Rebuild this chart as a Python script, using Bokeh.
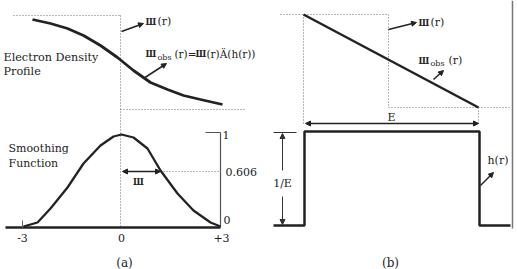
from bokeh.plotting import figure
from bokeh.models import Range1d, Arrow, NormalHead, ColumnDataSource
from bokeh.core.properties import value
from bokeh.embed import file_html
from bokeh.resources import INLINE

W, H = 517, 269

# ---- panel (a): electron density profile ----
dens_x = [32, 50, 67, 83, 100, 117, 133, 150, 167, 183, 200, 222]
dens_y = [19, 23, 28, 35, 45, 57, 70, 82, 89, 95, 99, 104]

# ---- panel (a): smoothing function ----
smooth_x = [23, 37, 50, 67, 83, 100, 113, 121, 133, 147, 160, 177, 193, 210, 220]
smooth_y = [226, 222, 208, 187, 163, 145, 136, 134, 137, 148, 170, 193, 210, 222, 226]
smooth_ticks = ["-3", "0", "+3"]
smooth_tick_x = [22, 121, 221]
level_labels = ["1", "0.606", "0"]
level_x = [222, 225, 223]
level_y = [134, 171, 219]

# ---- panel (b): linear profile and box function ----
lin_x = [303, 478]
lin_y = [14, 107]
box_x = [273, 304, 304, 479, 479, 510]
box_y = [225, 225, 131, 131, 225, 225]

# dotted guide lines: (xs, ys)
guides_x = [[13, 120], [120, 120], [120, 244], [280, 388], [303, 303], [388, 388], [388, 510], [478, 478], [163, 220]]
guides_y = [[15, 15], [15, 227], [109, 109], [14, 14], [14, 124], [14, 107], [107, 107], [107, 124], [171, 171]]

# solid helper lines
solid_x = [[5, 220], [220, 220], [205, 220], [22, 22], [273, 296], [512, 512]]
solid_y = [[227, 227], [132, 227], [132, 132], [220, 227], [132, 132], [0, 228]]
solid_w = [2.5, 1.2, 1.2, 1.0, 1.0, 1.5]
solid_c = ["#222222", "#555555", "#555555", "#666666", "#333333", "#777777"]

# single-headed arrows (x0, y0, x1, y1)
arrows1 = [(121, 31, 143, 23), (143, 78, 166, 63), (388, 29, 416, 22), (433, 79, 443, 70), (480, 185, 493, 172)]
# double-headed arrows
arrows2 = [(122, 171, 160, 171), (305, 123, 478, 123)]
# one-headed vertical parts of 1/E
arrows_v = [(282, 170, 282, 133), (282, 196, 282, 224)]

p = figure(width=W, height=H, x_range=Range1d(0, W), y_range=Range1d(H, 0),
           output_backend="svg", toolbar_location=None, min_border=0)
p.axis.visible = False
p.grid.visible = False
p.outline_line_color = None
p.background_fill_color = "white"

p.multi_line(guides_x, guides_y, line_color="#707070", line_width=1.1, line_dash="1 2")
p.multi_line(source=ColumnDataSource(dict(xs=solid_x, ys=solid_y, w=solid_w, c=solid_c)),
             xs="xs", ys="ys", line_width="w", line_color="c")

p.line(dens_x, dens_y, line_color="#222222", line_width=2.8, line_join="round")
p.line(smooth_x, smooth_y, line_color="#222222", line_width=2.3, line_join="round")
p.line(lin_x, lin_y, line_color="#222222", line_width=2.5)
p.line(box_x, box_y, line_color="#222222", line_width=2.5)

for x0, y0, x1, y1 in arrows1:
    p.add_layout(Arrow(end=NormalHead(size=5, fill_color="#222222", line_color="#222222"),
                       x_start=x0, y_start=y0, x_end=x1, y_end=y1,
                       line_color="#222222", line_width=1.5))
for x0, y0, x1, y1 in arrows2:
    p.add_layout(Arrow(start=NormalHead(size=5, fill_color="#222222", line_color="#222222"),
                       end=NormalHead(size=5, fill_color="#222222", line_color="#222222"),
                       x_start=x0, y_start=y0, x_end=x1, y_end=y1,
                       line_color="#222222", line_width=1.5))
for x0, y0, x1, y1 in arrows_v:
    p.add_layout(Arrow(end=NormalHead(size=5, fill_color="#333333", line_color="#333333"),
                       x_start=x0, y_start=y0, x_end=x1, y_end=y1,
                       line_color="#333333", line_width=1))

serif = value("DejaVu Serif")

def txt(x, y, s, size="11px", align="left", bold=False, color="#222222", base="middle"):
    p.text(x=[x], y=[y], text=[s], text_font=serif, text_font_size=size,
           text_align=align, text_baseline=base, text_color=color,
           text_font_style="bold" if bold else "normal")

PSI = "Ш"
PS = "8.5px"
txt(3, 57, "Electron Density", "11.2px", base="alphabetic")
txt(3, 71, "Profile", "11.2px", base="alphabetic")
txt(8, 148, "Smoothing", "11px")
txt(8, 163, "Function", "11px")
for s, x, y in zip(level_labels, level_x, level_y):
    txt(x, y, s, "11px")
for s, x in zip(smooth_ticks, smooth_tick_x):
    txt(x, 237, s, "11px", "center")
txt(124, 262, "(a)", "12px", "center")
txt(390, 262, "(b)", "12px", "center")
txt(391, 117, "E", "11px", "center")
txt(282, 183, "1/E", "11px", "center")
txt(487, 160, "h(r)", "11px")

# psi labels
txt(138, 181, PSI, PS, "center", bold=True)
txt(145, 21, PSI, PS, bold=True)
txt(157, 21, "(r)", "11px")
txt(145, 53, PSI, PS, bold=True)
txt(157, 57, "obs", "8px")
txt(174, 53, "(r)=", "10.5px")
txt(195, 53, PSI, PS, bold=True)
txt(206, 53, "(r)Ä(h(r))", "10.5px")
txt(418, 22, PSI, PS, bold=True)
txt(430, 22, "(r)", "11px")
txt(418, 60, PSI, PS, bold=True)
txt(430, 63, "obs", "8px")
txt(448, 60, "(r)", "11px")

open("out.html", "w").write(file_html(p, INLINE))
